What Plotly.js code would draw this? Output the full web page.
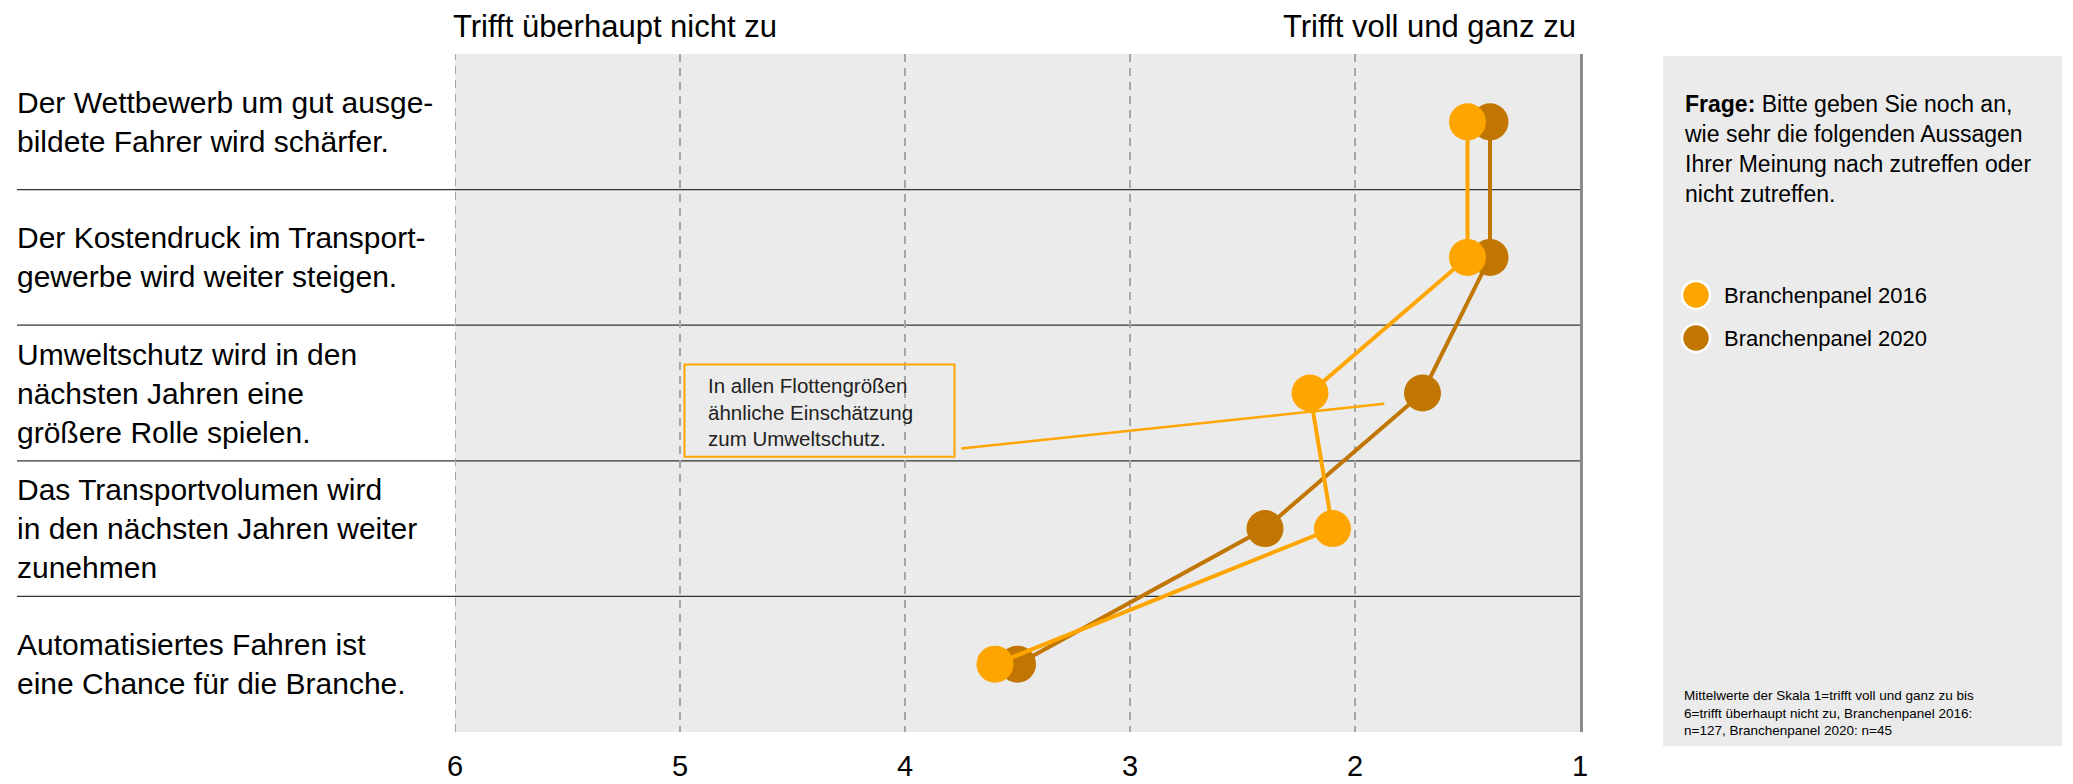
<!DOCTYPE html>
<html>
<head>
<meta charset="utf-8">
<script src="https://cdn.plot.ly/plotly-3.0.1.min.js"></script>
<style>
  html, body { margin: 0; padding: 0; background: #fff; }
  #chart { width: 2073px; height: 784px; }
</style>
</head>
<body>
<div id="chart"></div>
<script>
// Aussagen (von oben nach unten)
const statements = [
  "Der Wettbewerb um gut ausge-<br>bildete Fahrer wird schärfer.",
  "Der Kostendruck im Transport-<br>gewerbe wird weiter steigen.",
  "Umweltschutz wird in den<br>nächsten Jahren eine<br>größere Rolle spielen.",
  "Das Transportvolumen wird<br>in den nächsten Jahren weiter<br>zunehmen",
  "Automatisiertes Fahren ist<br>eine Chance für die Branche."
];
const rows = [0, 1, 2, 3, 4];

// Mittelwerte (1 = trifft voll und ganz zu ... 6 = trifft überhaupt nicht zu)
const panel2016 = [1.5, 1.5, 2.2, 2.1, 3.6];
const panel2020 = [1.4, 1.4, 1.7, 2.4, 3.5];

const scaleTicks = [1, 2, 3, 4, 5, 6];
const seriesNames = ["Branchenpanel 2016", "Branchenpanel 2020"];

const C2016 = "#FFA500";
const C2020 = "#C07600";
const BG = "#EBEBEB";
const FONT = "Liberation Sans, Arial, sans-serif";

// Geometrie der Zeichenfläche (Pixel)
const W = 2073, H = 784;
const M = { l: 455, r: 493, t: 54, b: 52 };
const plotW = W - M.l - M.r;
const plotH = H - M.t - M.b;
const px = x => (x - M.l) / plotW;
const py = y => (H - M.b - y) / plotH;

const line2020 = {
  x: panel2020, y: rows, name: seriesNames[1],
  type: "scatter", mode: "lines+markers",
  line: { color: C2020, width: 4 },
  marker: { color: C2020, size: 37 },
  showlegend: false, hoverinfo: "skip"
};
const line2016 = {
  x: panel2016, y: rows, name: seriesNames[0],
  type: "scatter", mode: "lines+markers",
  line: { color: C2016, width: 4 },
  marker: { color: C2016, size: 37 },
  showlegend: false, hoverinfo: "skip"
};

// grauer Hintergrund + Trennlinien zwischen den Aussagen
const shapes = [
  { type: "rect", xref: "paper", yref: "paper", x0: 0, x1: 1, y0: 0, y1: 1,
    fillcolor: BG, line: { width: 0 }, layer: "below" },
  // Infobox rechts
  { type: "rect", xref: "paper", yref: "paper", x0: px(1663), x1: px(2062), y0: py(746), y1: py(56),
    fillcolor: BG, line: { width: 0 }, layer: "below" }
];
[0.5, 1.5, 2.5, 3.5].forEach(y => shapes.push({
  type: "line", xref: "paper", yref: "y", x0: px(17), x1: 1, y0: y, y1: y,
  line: { color: "#333", width: 1.3 }, layer: "below"
}));
// gestrichelte Linie am linken Rand (Skalenwert 6), Plotly lässt sie am Rand weg
shapes.push({ type: "line", xref: "x", yref: "paper", x0: 6, x1: 6, y0: 0, y1: 1,
  line: { color: "#A6A6A6", width: 2, dash: "8px,6px" }, layer: "below" });

// Kommentar-Kasten mit Verbindungslinie
shapes.push({ type: "rect", xref: "x", yref: "y", x0: 4.98, x1: 3.78, y0: 1.79, y1: 2.47,
  line: { color: C2016, width: 2 }, fillcolor: "rgba(0,0,0,0)", layer: "above" });
shapes.push({ type: "line", xref: "x", yref: "y", x0: 3.75, y0: 2.41, x1: 1.87, y1: 2.08,
  line: { color: C2016, width: 2.5 }, layer: "above" });

// Legende als Kreise
[[C2016, 295], [C2020, 338]].forEach(([c, y]) => shapes.push({
  type: "circle", xref: "paper", yref: "paper", xsizemode: "pixel", ysizemode: "pixel",
  xanchor: px(1696), yanchor: py(y), x0: -14, x1: 14, y0: -14, y1: 14,
  fillcolor: c, line: { color: "#fff", width: 2.5 }, layer: "above"
}));

const annotations = statements.map((s, i) => ({
  text: s, xref: "paper", yref: "y", x: px(15), y: rows[i],
  xanchor: "left", yanchor: "middle", align: "left", showarrow: false,
  font: { family: FONT, size: 30, color: "#000" }
}));

annotations.push(
  { text: "Trifft überhaupt nicht zu", xref: "paper", yref: "paper", x: px(451), y: py(26),
    xanchor: "left", yanchor: "middle", showarrow: false, font: { family: FONT, size: 31, color: "#000" } },
  { text: "Trifft voll und ganz zu", xref: "paper", yref: "paper", x: px(1578), y: py(26),
    xanchor: "right", yanchor: "middle", showarrow: false, font: { family: FONT, size: 31, color: "#000" } },
  { text: "In allen Flottengrößen<br>ähnliche Einschätzung<br>zum Umweltschutz.", xref: "x", yref: "y",
    x: 4.885, y: 2.14, xanchor: "left", yanchor: "middle", align: "left", showarrow: false,
    font: { family: FONT, size: 20.5, color: "#222" } },
  { text: "<b>Frage:</b> Bitte geben Sie noch an,<br>wie sehr die folgenden Aussagen<br>Ihrer Meinung nach zutreffen oder<br>nicht zutreffen.",
    xref: "paper", yref: "paper", x: px(1682), y: py(89), xanchor: "left", yanchor: "top", align: "left",
    showarrow: false, font: { family: FONT, size: 23, color: "#000" } },
  { text: seriesNames[0], xref: "paper", yref: "paper", x: px(1722), y: py(295), xanchor: "left", yanchor: "middle",
    showarrow: false, font: { family: FONT, size: 22, color: "#000" } },
  { text: seriesNames[1], xref: "paper", yref: "paper", x: px(1722), y: py(338), xanchor: "left", yanchor: "middle",
    showarrow: false, font: { family: FONT, size: 22, color: "#000" } },
  { text: "Mittelwerte der Skala 1=trifft voll und ganz zu bis<br>6=trifft überhaupt nicht zu, Branchenpanel 2016:<br>n=127, Branchenpanel 2020: n=45",
    xref: "paper", yref: "paper", x: px(1682), y: py(686), xanchor: "left", yanchor: "top", align: "left",
    showarrow: false, font: { family: FONT, size: 13.5, color: "#000" } }
);

const layout = {
  width: W, height: H,
  margin: M,
  paper_bgcolor: "#fff",
  plot_bgcolor: "rgba(0,0,0,0)",
  showlegend: false,
  hovermode: false,
  font: { family: FONT, color: "#000" },
  xaxis: {
    range: [6, 1], tickvals: scaleTicks, ticks: "",
    showgrid: true, gridcolor: "#A6A6A6", gridwidth: 2, griddash: "8px,6px",
    zeroline: false, showline: false,
    tickfont: { family: FONT, size: 29, color: "#000" },
    ticklabelstandoff: 14
  },
  yaxis: {
    range: [4.5, -0.5], showgrid: false, zeroline: false, showticklabels: false,
    side: "right", showline: true, linecolor: "#8C8C8C", linewidth: 3
  },
  shapes, annotations
};

Plotly.newPlot("chart", [line2020, line2016], layout, { displayModeBar: false, staticPlot: true });
</script>
</body>
</html>
